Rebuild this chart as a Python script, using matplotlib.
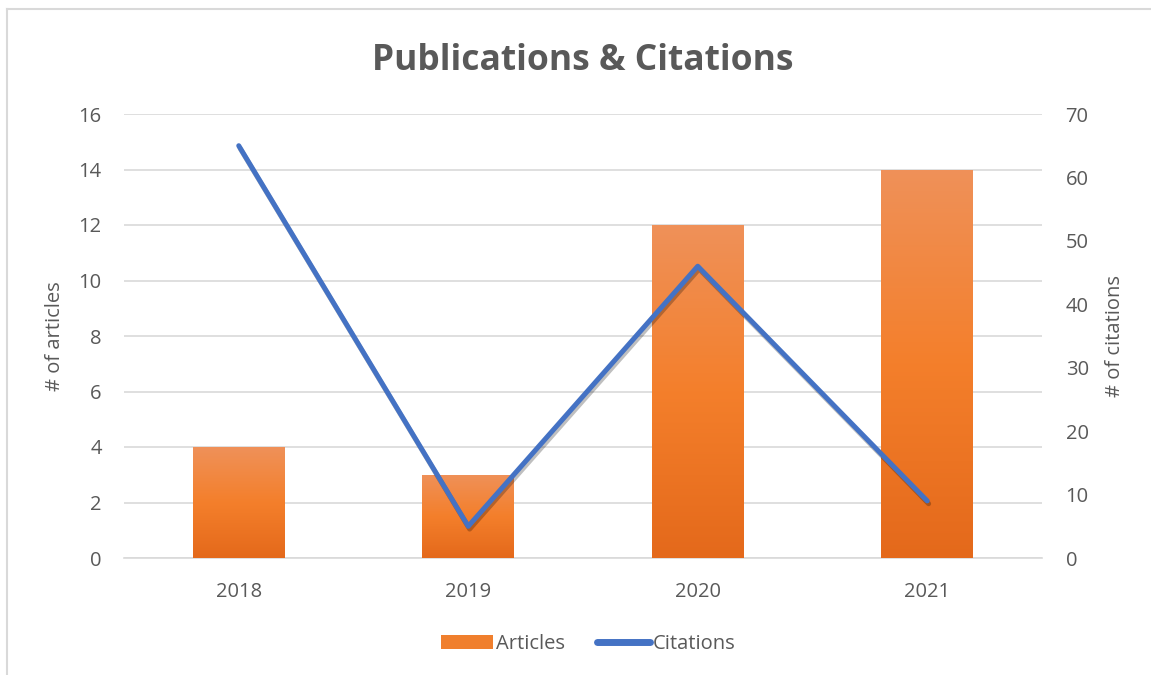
import matplotlib
matplotlib.use("Agg")
import numpy as np
import matplotlib.pyplot as plt
import matplotlib.patheffects as pe
from matplotlib.patches import Patch
from matplotlib.lines import Line2D
from matplotlib.colors import LinearSegmentedColormap

plt.rcParams["font.family"] = ["Open Sans", "DejaVu Sans"]

years = ["2018", "2019", "2020", "2021"]
articles = [4, 3, 12, 14]
citations = [65, 5, 46, 9]

TXT = "#595959"
GRID = "#D9D9D9"
BLUE = "#4472C4"
ORANGE = "#F07F2D"

fig = plt.figure(figsize=(11.51, 6.75), dpi=100)
ax = fig.add_axes([124 / 1151, 1 - 558 / 675, (1042 - 124) / 1151, (558 - 114) / 675])
ax2 = ax.twinx()

x = np.arange(len(years))
bars = ax.bar(x, articles, width=0.4, color=ORANGE, zorder=2,
              path_effects=[pe.SimplePatchShadow(offset=(0, -1.5), shadow_rgbFace="#000000", alpha=0.25),
                            pe.Normal()])

# verlauf in den balken
grad = LinearSegmentedColormap.from_list("g", ["#E4691B", "#F47F2B", "#EF9159"])
img = np.linspace(0, 1, 256).reshape(-1, 1)
for b in bars:
    x0, y0, w, h = b.get_x(), b.get_y(), b.get_width(), b.get_height()
    im = ax.imshow(img, cmap=grad, origin="lower", aspect="auto",
                   extent=(x0, x0 + w, y0, y0 + h), zorder=3)
    im.set_clip_path(b)

ax.set_xlim(-0.5, 3.5)
ax.set_ylim(0, 16)
ax.set_yticks(range(0, 17, 2))
ax.set_xticks(x)
ax.set_xticklabels(years)
ax.grid(axis="y", color=GRID, lw=1.2, zorder=0)
ax.set_axisbelow(True)

ax2.plot(x, citations, color=BLUE, lw=3.6, solid_capstyle="round", solid_joinstyle="round", zorder=5,
         path_effects=[pe.SimpleLineShadow(offset=(1, -2), shadow_color="#000000", alpha=0.25), pe.Normal()])
ax2.set_ylim(0, 70)
ax2.set_yticks(range(0, 71, 10))

for a in (ax, ax2):
    for s in a.spines.values():
        s.set_visible(False)
    a.tick_params(length=0, colors=TXT, labelsize=14.5)
ax.spines["bottom"].set_visible(True)
ax.spines["bottom"].set_color(GRID)
ax.spines["bottom"].set_linewidth(1.2)
ax.tick_params(axis="y", pad=16)
ax.tick_params(axis="x", pad=17.5)
ax2.tick_params(axis="y", pad=17)

ax.set_ylabel("# of articles", color=TXT, fontsize=14.5, labelpad=10)
ax2.set_ylabel("# of citations", color=TXT, fontsize=14.5, rotation=90, labelpad=12)

fig.text(583 / 1151, 1 - 61 / 675, "Publications & Citations", ha="center", va="center",
         fontsize=25.5, fontweight="bold", color=TXT)

handles = [Patch(facecolor=ORANGE, edgecolor="none"),
           Line2D([0], [0], color=BLUE, lw=5, solid_capstyle="round")]
fig.legend(handles, ["Articles", "Citations"], loc="center", bbox_to_anchor=(588 / 1151, 1 - 644 / 675),
           ncol=2, frameon=False, fontsize=14.5, labelcolor=TXT, handlelength=2.6,
           handletextpad=0.15, columnspacing=1.6)

# rahmen
fig.add_artist(Line2D([7 / 1151, 7 / 1151], [0, 1 - 9 / 675], transform=fig.transFigure, color=GRID, lw=1.5))
fig.add_artist(Line2D([7 / 1151, 1], [1 - 9 / 675, 1 - 9 / 675], transform=fig.transFigure, color=GRID, lw=1.5))

fig.savefig("out.png", dpi=100)
